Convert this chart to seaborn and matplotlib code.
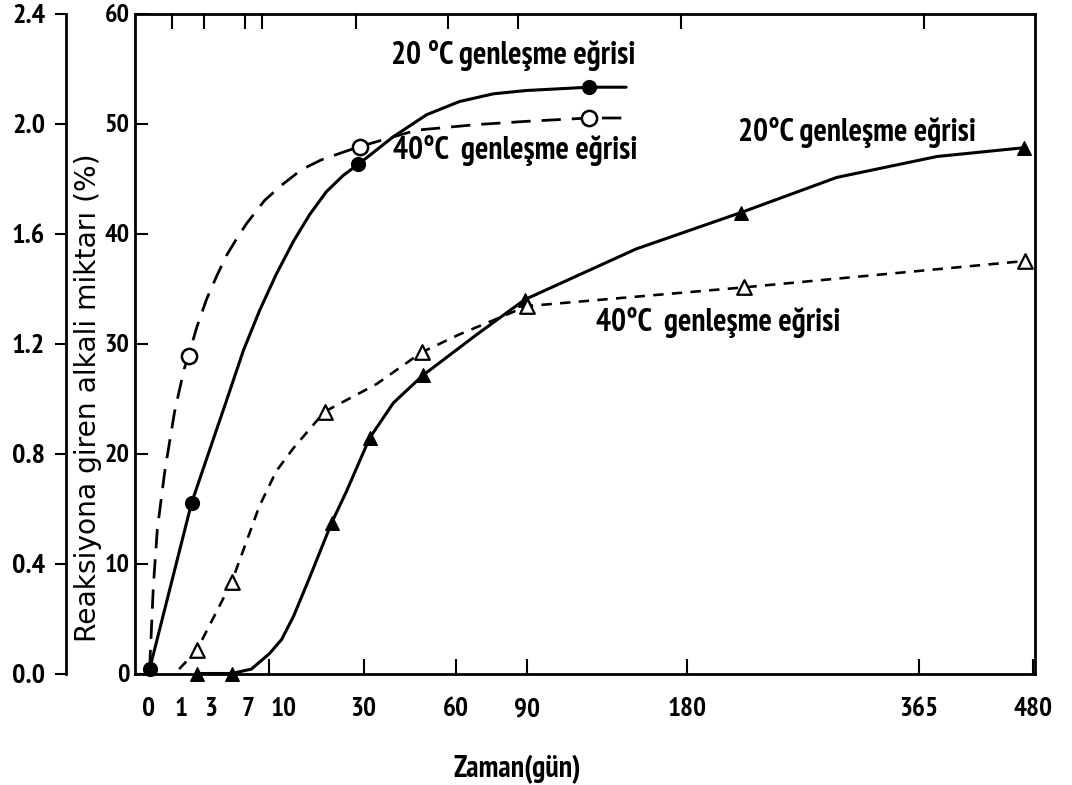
import os
import numpy as np
import pandas as pd
import matplotlib
matplotlib.use("Agg")
import matplotlib.pyplot as plt
from matplotlib import font_manager as fm
from matplotlib.transforms import ScaledTranslation
import seaborn as sns

# ---------------- data (time in days, reacted alkali in %) ----------------
x_tick_days = [0, 1, 3, 7, 10, 30, 60, 90, 180, 365, 480]
x_tick_labels = ["0", "1", "3", "7", "10", "30", "60", "90", "180", "365", "480"]
top_tick_days = [0.6, 2.4, 6.6, 8.9, 28, 57, 86, 176, 370]
inner_y_ticks = [0, 10, 20, 30, 40, 50, 60]
inner_y_labels = ["0", "10", "20", "30", "40", "50", "60"]
outer_y_ticks = [0.0, 0.4, 0.8, 1.2, 1.6, 2.0, 2.4]
outer_y_labels = ["0.0", "0.4", "0.8", "1.2", "1.6", "2.0", "2.4"]

# 20 °C curve (filled circles)
c20a_days = [0.05, 1.57, 2.87, 4.45, 6.39, 8.54, 11.1, 14.1, 17.2, 20.8, 24.8, 28.6,
             38.5, 49.3, 61.3, 75, 89.7, 121, 142]
c20a_vals = [0.4, 15.5, 20.3, 24.8, 29.4, 33.0, 36.3, 39.3, 41.7, 43.8, 45.3, 46.3,
             48.8, 50.8, 52.0, 52.7, 53.0, 53.3, 53.3]
c20a_mark_days = [0.05, 1.57, 28.6, 121]
c20a_mark_vals = [0.4, 15.5, 46.3, 53.3]

# 40 °C curve (open circles)
c40a_days = [0.05, 0.1, 0.17, 0.36, 0.7, 1.15, 1.39, 1.89, 2.62, 3.48, 4.45, 5.55, 6.77,
             9.26, 12.0, 15.6, 19.7, 24.8, 28.9, 46, 68, 90, 121, 142]
c40a_vals = [0.4, 8.0, 13.1, 18.5, 23.8, 27.7, 28.9, 31.4, 34.0, 36.1, 38.0, 39.5, 40.9,
             43.0, 44.4, 45.8, 46.7, 47.4, 47.9, 49.4, 49.9, 50.2, 50.5, 50.5]
c40a_mark_days = [1.39, 28.9, 121]
c40a_mark_vals = [28.9, 47.9, 50.5]

# 20 °C curve (filled triangles)
c20b_days = [1.9, 5.0, 7.4, 10, 12.0, 14.1, 17.2, 22, 25.6, 31.6, 38.5, 48, 68, 89,
             148, 217, 292, 382, 470]
c20b_vals = [0, 0, 0.4, 1.8, 3.1, 5.2, 8.7, 13.7, 16.6, 21.4, 24.6, 27.1, 30.8, 34.0,
             38.6, 41.9, 45.1, 47.0, 47.8]
c20b_mark_days = [1.9, 5.0, 22, 31.6, 48, 89, 217, 470]
c20b_mark_vals = [0, 0, 13.7, 21.4, 27.1, 34.0, 41.9, 47.8]

# 40 °C curve (open triangles)
c40b_days = [0.9, 1.9, 5.0, 8.5, 11.1, 14.1, 20.4, 33.5, 47.6, 61, 90, 219, 471]
c40b_vals = [0.4, 2.1, 8.3, 15.2, 18.4, 20.5, 23.8, 26.3, 29.2, 30.8, 33.4, 35.1, 37.5]
c40b_mark_days = [1.9, 5.0, 20.4, 47.6, 90, 219, 471]
c40b_mark_vals = [2.1, 8.3, 23.8, 29.2, 33.4, 35.1, 37.5]

label_20_top = "20 °C genleşme eğrisi"
label_40_top = "40°C  genleşme eğrisi"
label_20_right = "20°C genleşme eğrisi"
label_40_right = "40°C  genleşme eğrisi"
x_label = "Zaman(gün)"
y_label = "Reaksiyona giren alkali miktarı (%)"

# ---------------- style ----------------
sns.set_theme(style="ticks", rc={
    "axes.edgecolor": "black", "xtick.color": "black", "ytick.color": "black",
    "text.color": "black", "axes.labelcolor": "black", "axes.linewidth": 2.0,
    "figure.facecolor": "white", "axes.facecolor": "white",
})
plt.rcParams["font.family"] = ["Liberation Sans", "DejaVu Sans"]

# pick a condensed/narrow face if one is installed (source uses a condensed sans)
cands = []
for f in fm.fontManager.ttflist:
    nm = f.name.lower()
    fn = os.path.basename(f.fname).lower()
    if f.style != "normal":
        continue
    rank = None
    if "liberation sans narrow" in nm:
        rank = 0
    elif "narrow" in nm or "narrow" in fn:
        rank = 1
    elif ("condensed" in nm or "condensed" in fn or
          str(f.stretch) in ("condensed", "semi-condensed", "extra-condensed")):
        rank = 2
    if rank is not None:
        w = f.weight if isinstance(f.weight, int) else 400
        if "semi" in fn or "extra" in fn or "ultra" in fn:
            rank += 0.5
        cands.append((rank, abs(w - 600), f.fname))
cands.sort()
NARROW = cands[0][2] if cands else None


def nfp(size):
    if NARROW:
        return fm.FontProperties(fname=NARROW, size=size)
    return fm.FontProperties(family=["Liberation Sans", "DejaVu Sans"], size=size,
                             weight="bold")


def dv(size):
    return fm.FontProperties(family="DejaVu Sans", size=size)


W_PX, H_PX = 1072, 785
fig = plt.figure(figsize=(W_PX / 100, H_PX / 100), dpi=100)
renderer = fig.canvas.get_renderer()


def fit_size(s, maker, target_px):
    t = fig.text(0, 0, s, fontproperties=maker(20))
    w = t.get_window_extent(renderer).width
    t.remove()
    return 20 * target_px / w


sz_ann = fit_size("20°C genleşme eğrisi", nfp, 238)
sz_xt = fit_size("365", nfp, 39)
sz_yo = fit_size("2.4", nfp, 33)
sz_yi = fit_size("40", nfp, 25)
sz_xl = fit_size(x_label, nfp, 128)
sz_yl = fit_size(y_label, dv, 490)

# ---------------- axes ----------------
L, R, B, T = 135, 1035, 673.5, 13.5
ax = fig.add_axes([L / W_PX, 1 - B / H_PX, (R - L) / W_PX, (B - T) / H_PX])


def fwd(x):
    x = np.asarray(x, dtype=float)
    return np.sign(x) * np.sqrt(np.abs(x))


def inv(s):
    s = np.asarray(s, dtype=float)
    return np.sign(s) * s ** 2


LW = 2.2
sns.lineplot(x=c20a_days, y=c20a_vals, ax=ax, color="black", linewidth=LW,
             sort=False, estimator=None)
sns.lineplot(x=c40a_days, y=c40a_vals, ax=ax, color="black", linewidth=LW * 0.9,
             linestyle=(0, (7, 4)), sort=False, estimator=None)
sns.lineplot(x=c20b_days, y=c20b_vals, ax=ax, color="black", linewidth=LW,
             sort=False, estimator=None)
sns.lineplot(x=c40b_days, y=c40b_vals, ax=ax, color="black", linewidth=LW * 0.85,
             linestyle=(0, (4, 3.2)), sort=False, estimator=None)

mk = dict(ax=ax, zorder=4, clip_on=False, legend=False)
sns.scatterplot(x=c20a_mark_days, y=c20a_mark_vals, marker="o", s=95,
                color="black", edgecolor="black", linewidth=1.2, **mk)
sns.scatterplot(x=c40a_mark_days, y=c40a_mark_vals, marker="o", s=120,
                color="white", edgecolor="black", linewidth=1.8, **mk)
sns.scatterplot(x=c20b_mark_days, y=c20b_mark_vals, marker="^", s=95,
                color="black", edgecolor="black", linewidth=1.0, **mk)
sns.scatterplot(x=c40b_mark_days, y=c40b_mark_vals, marker="^", s=110,
                color="white", edgecolor="black", linewidth=1.6, **mk)

ax.set_xscale("function", functions=(fwd, inv))
xlim = (float(inv(-0.135)), float(inv(21.95)))
ax.set_xlim(*xlim)
ax.set_ylim(0, 60)
for sp in ax.spines.values():
    sp.set_visible(True)
    sp.set_linewidth(2.0)

# bottom ticks: marks only from 10 days on
maj = [(d, l) for d, l in zip(x_tick_days, x_tick_labels) if d >= 10]
mino = [(d, l) for d, l in zip(x_tick_days, x_tick_labels) if d < 10]
ax.set_xticks([d for d, _ in maj], labels=[l for _, l in maj])
ax.set_xticks([d for d, _ in mino], labels=[l for _, l in mino], minor=True)
ax.tick_params(axis="x", which="major", direction="in", length=11, width=1.5, pad=17,
               top=False)
ax.tick_params(axis="x", which="minor", length=0, pad=17, top=False)

ax.set_yticks(inner_y_ticks, labels=inner_y_labels)
ax.yaxis.set_minor_locator(matplotlib.ticker.NullLocator())
ax.tick_params(axis="y", which="major", direction="in", length=9, width=1.5, pad=4,
               right=True, left=True)

ax.set_xlabel(x_label, fontproperties=nfp(sz_xl))
ax.xaxis.set_label_coords((517 - L) / (R - L), (B - 755) / (B - T))
ax.set_ylabel(y_label, fontproperties=dv(sz_yl))
ax.yaxis.set_label_coords((102 - L) / (R - L), (B - 398) / (B - T))

# annotations
ax.text(37.9, 56.2, label_20_top, fontproperties=nfp(sz_ann), ha="left", va="center")
ax.text(38.5, 47.5, label_40_top, fontproperties=nfp(sz_ann), ha="left", va="center")
ax.text(215, 49.2, label_20_right, fontproperties=nfp(sz_ann), ha="left", va="center")
ax.text(125, 31.9, label_40_right, fontproperties=nfp(sz_ann), ha="left", va="center")

# top ticks
ax_top = ax.twiny()
ax_top.set_xscale("function", functions=(fwd, inv))
ax_top.set_xlim(*xlim)
ax_top.set_xticks(top_tick_days)
ax_top.xaxis.set_minor_locator(matplotlib.ticker.NullLocator())
ax_top.tick_params(axis="x", direction="in", length=11, width=1.5, top=True,
                   bottom=False, labeltop=False, labelbottom=False)
for sp in ax_top.spines.values():
    sp.set_visible(False)

# outer left axis 0.0 - 2.4
ax2 = ax.twinx()
ax2.set_ylim(0, 2.4)
ax2.set_yticks(outer_y_ticks, labels=outer_y_labels)
ax2.yaxis.set_minor_locator(matplotlib.ticker.NullLocator())
ax2.yaxis.set_ticks_position("left")
ax2.spines["left"].set_position(("axes", (66 - L) / (R - L)))
ax2.spines["left"].set_visible(True)
ax2.spines["left"].set_linewidth(2.0)
for k in ("right", "top", "bottom"):
    ax2.spines[k].set_visible(False)
ax2.tick_params(axis="y", direction="out", length=8, width=1.5, pad=7,
                left=True, right=False, labelleft=True, labelright=False)

# fonts for tick labels (applied last so nothing resets them)
for lbl in ax.get_xticklabels() + ax.get_xticklabels(minor=True):
    lbl.set_fontproperties(nfp(sz_xt))
    if lbl.get_text() == "10":
        lbl.set_transform(lbl.get_transform() + ScaledTranslation(0.14, 0, fig.dpi_scale_trans))
    if lbl.get_text() == "0":
        lbl.set_transform(lbl.get_transform() + ScaledTranslation(0.08, 0, fig.dpi_scale_trans))
for lbl in ax.get_yticklabels():
    lbl.set_fontproperties(nfp(sz_yi))
for lbl in ax2.get_yticklabels():
    lbl.set_fontproperties(nfp(sz_yo))

fig.savefig("out.png", dpi=100, facecolor="white")
